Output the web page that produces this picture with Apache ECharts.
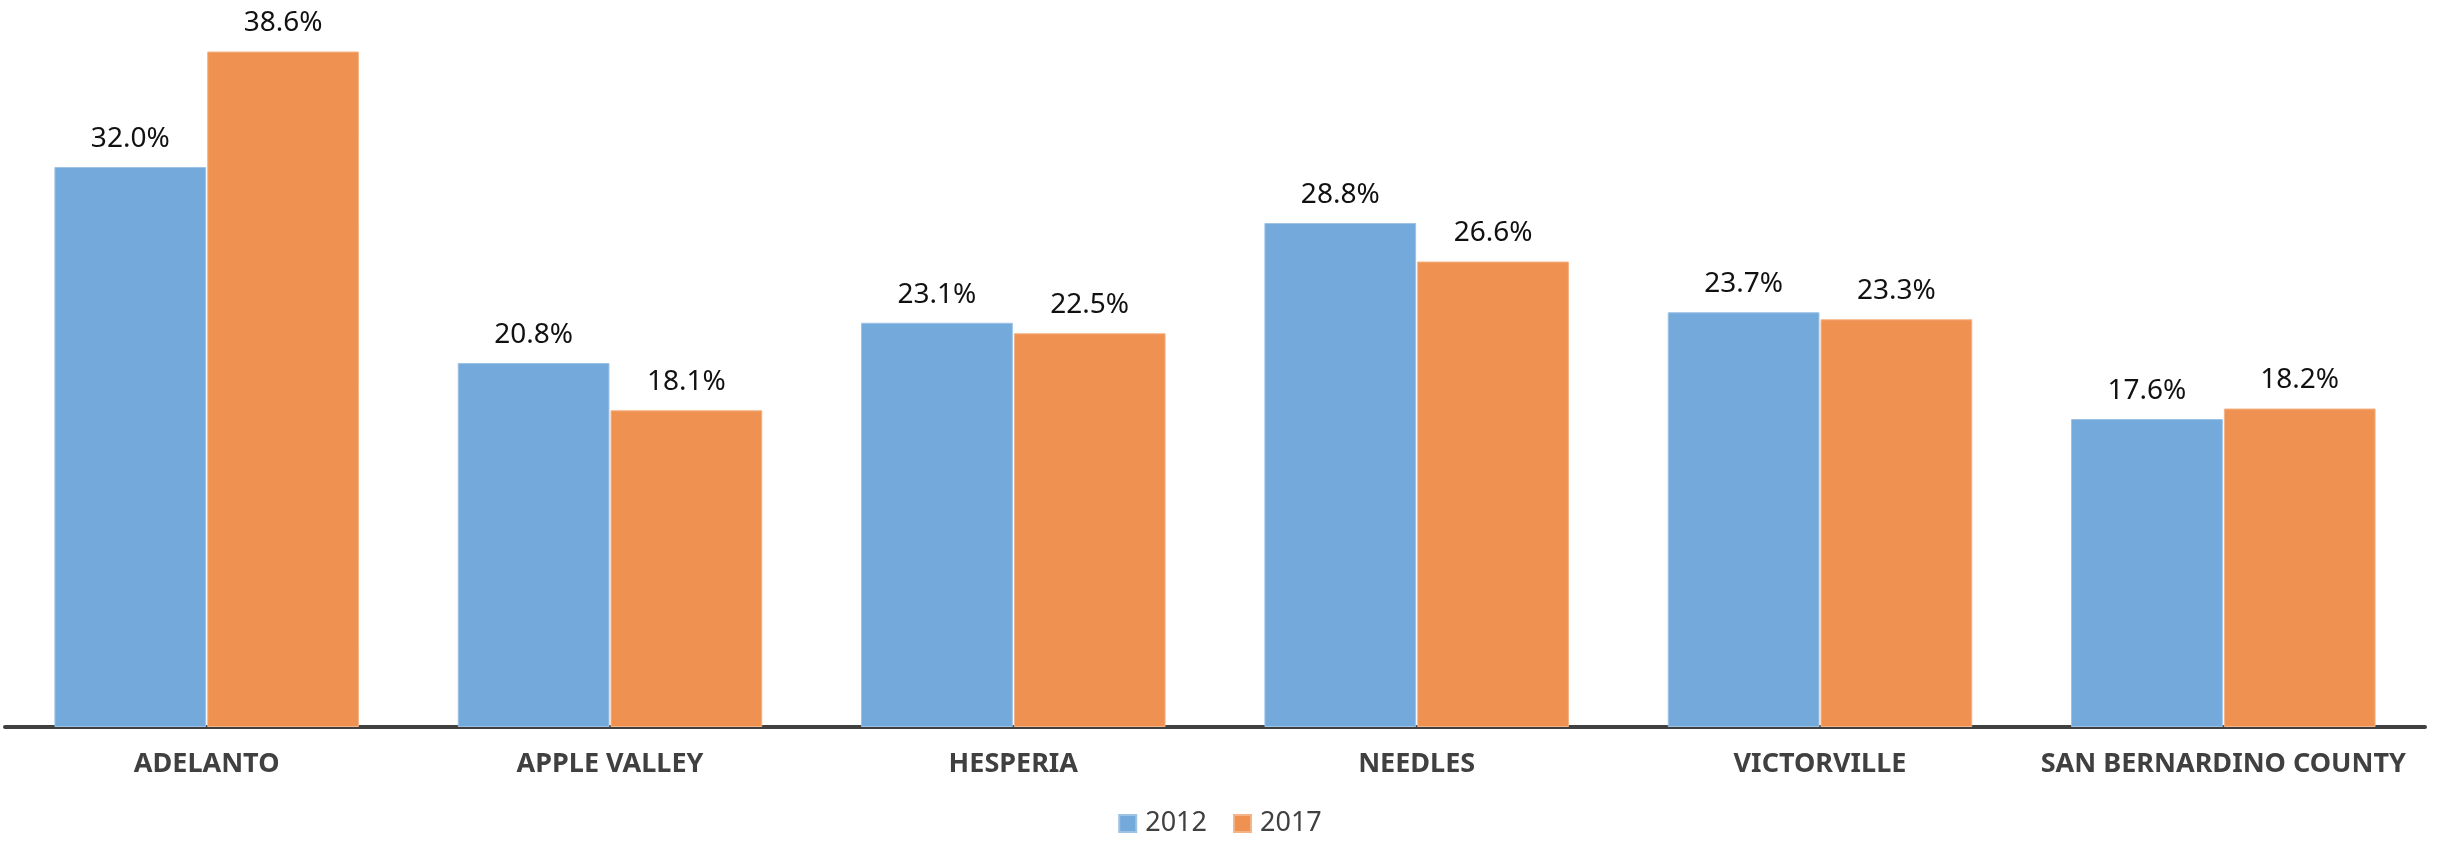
<!DOCTYPE html>
<html>
<head>
<meta charset="utf-8">
<script src="https://cdn.jsdelivr.net/npm/echarts@6/dist/echarts.min.js"></script>
<style>
html,body{margin:0;padding:0;background:#fff;}
#c{width:2440px;height:845px;}
</style>
</head>
<body>
<div id="c"></div>
<script>
const categories = ['ADELANTO', 'APPLE VALLEY', 'HESPERIA', 'NEEDLES', 'VICTORVILLE', 'SAN BERNARDINO COUNTY'];
const values2012 = [32.0, 20.8, 23.1, 28.8, 23.7, 17.6];
const values2017 = [38.6, 18.1, 22.5, 26.6, 23.3, 18.2];
const seriesNames = ['2012', '2017'];

const chart = echarts.init(document.getElementById('c'));
const labelStyle = {
  show: true,
  position: 'top',
  distance: 14,
  color: '#111',
  fontFamily: 'Noto Sans',
  fontSize: 28,
  formatter: p => p.value.toFixed(1) + '%'
};
chart.setOption({
  animation: false,
  grid: { left: 5, right: 15, top: 27, bottom: 118, containLabel: false },
  legend: {
    data: seriesNames,
    bottom: 3,
    left: 'center',
    itemWidth: 17,
    itemHeight: 17,
    itemGap: 26,
    icon: 'rect',
    textStyle: { color: '#404040', fontFamily: 'Noto Sans', fontSize: 27, padding: [0, 0, 0, 4] }
  },
  xAxis: {
    type: 'category',
    data: categories,
    axisLine: { lineStyle: { color: '#404040', width: 4 } },
    axisTick: { show: false },
    axisLabel: { interval: 0, color: '#404040', fontFamily: 'Noto Sans', fontWeight: 'bold', fontSize: 27, margin: 24 }
  },
  yAxis: {
    type: 'value',
    min: 0,
    max: 40,
    show: false,
    splitLine: { show: false }
  },
  series: [
    {
      name: seriesNames[0],
      type: 'bar',
      data: values2012,
      barGap: '0.7%',
      barCategoryGap: '24.5%',
      itemStyle: { color: '#74a9db', borderColor: '#9cc2e6', borderWidth: 1 },
      label: labelStyle
    },
    {
      name: seriesNames[1],
      type: 'bar',
      data: values2017,
      itemStyle: { color: '#ef9150', borderColor: '#f5b487', borderWidth: 1 },
      label: labelStyle
    }
  ]
});
</script>
</body>
</html>
